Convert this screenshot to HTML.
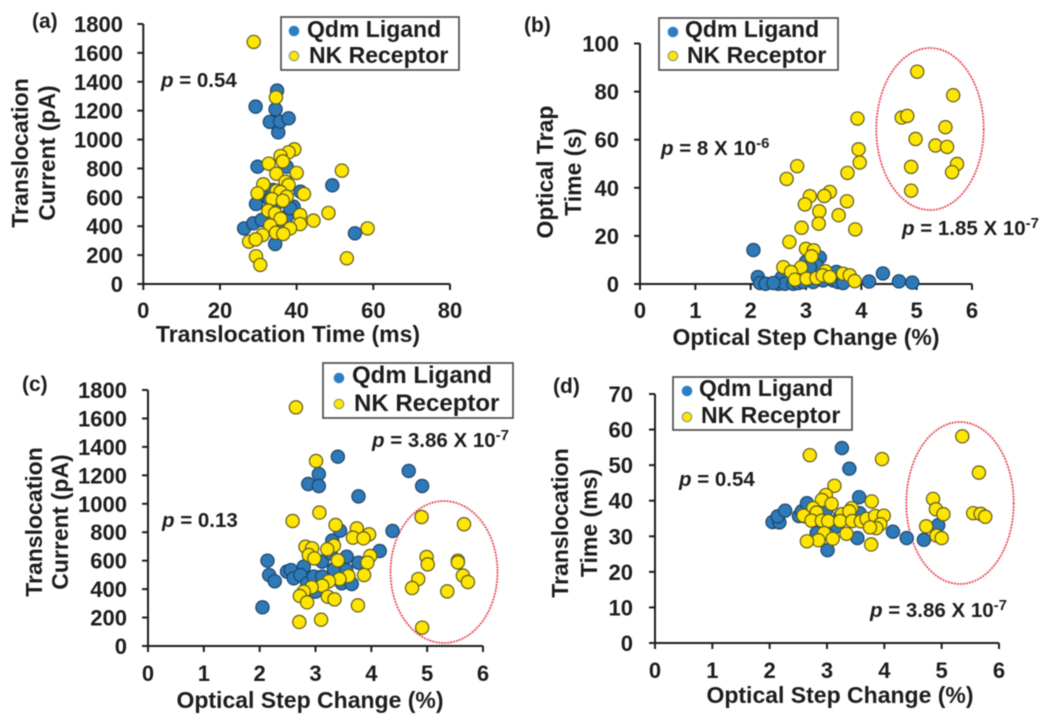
<!DOCTYPE html>
<html lang="en">
<head>
<meta charset="utf-8">
<title>Qdm Ligand and NK Receptor scatter panels</title>
<style>
html,body{margin:0;padding:0;background:#fff;}
svg{display:block;filter:blur(0.45px);}
text{font-family:"Liberation Sans",sans-serif;font-weight:bold;fill:#1c1c1c;}
.it{font-style:italic;}
</style>
</head>
<body>
<svg id="fig" width="1050" height="725" viewBox="0 0 1050 725" xmlns="http://www.w3.org/2000/svg"></svg>
<script>
// Panel (a): translocation time (ms) vs translocation current (pA)
const aQdmX = [26.3,28.7,29.4,29.8,29.3,30.9,33,34.5,34.9,35.2,35.7,37.9,34.4,55.2,49.3,37.4,41,32.2,33.9,39.2,37.4,35.7,38.3,34.8,36.5,33];
const aQdmY = [385,420,554,812,1228,443,1122,1209,1339,1050,1124,1147,277,351,683,812,639,605,651,535,466,432,524,558,605,582];
const aNkX = [28.8,34.6,39.4,37.9,35.8,36.4,32.7,40,34.7,51.8,37.1,31.3,37.9,29.8,41.9,34.8,35.8,37.4,33.6,36.4,32.6,34.4,48.3,40.9,35.8,44.4,40.9,33.1,38.3,58.5,31.1,34.6,36.5,27.6,29.3,29.4,53.1,30.5];
const aNkY = [1676,1292,932,912,886,849,833,769,764,785,708,690,685,628,623,646,637,605,588,577,508,489,492,478,452,439,415,406,385,385,339,355,346,293,309,192,178,132];
// Panel (b): optical step change (%) vs optical trap time (s)
const bQdmX = [2.05,2.13,2.17,2.27,2.5,2.56,2.62,2.77,2.86,3.0,3.25,3.19,3.07,3.13,3.31,3.43,3.49,3.58,3.67,4.14,4.39,4.68,4.92,3.55,2.95,2.41];
const bQdmY = [14.1,2.9,0.4,0.1,0.1,2.6,0.1,0.1,0.4,9.2,11,7.8,7,0.8,1.5,4.3,1.5,0.8,0.4,1,4.4,1.1,0.6,5,0.8,0.4];
const bNkX = [5.01,5.66,4.73,4.83,3.93,5.52,4.98,5.34,5.55,3.95,3.97,5.73,5.64,4.9,4.9,2.84,2.65,3.75,3.43,3.33,3.07,2.98,3.74,3.24,3.59,3.23,2.92,3.89,2.7,3,3.14,3.1,2.59,2.91,2.73,3.35,3.67,3.79,3.88,2.8,3.01,3.19,3.3,3.43];
const bNkY = [88.3,78.5,69.2,69.9,68.8,65.2,60.3,57.6,57,56,50.5,49.9,46.5,48.7,38.8,49,43.7,46.2,38.3,36.6,36.5,33.1,34.4,30.2,28.6,25.1,23.4,22.7,17.5,14.6,14,11.5,7,6.9,5,5.3,4.3,3.6,1.2,1.8,2.2,2.5,3.6,2.9];
// Panel (c): optical step change (%) vs translocation current (pA)
const cQdmX = [2.05,2.14,2.17,2.27,2.49,2.56,2.61,2.79,2.73,2.85,2.97,3,3.12,3.27,3.3,3.33,3.56,3.55,3.44,3.47,3.65,3.77,4.15,4.38,3.77,3.4,3.06,2.87,3.06,4.67,4.91,3.12];
const cQdmY = [272,600,499,455,523,534,476,558,499,441,488,382,593,652,741,539,628,534,811,441,436,586,668,809,1052,1331,1209,1139,1125,1231,1125,488];
const cNkX = [2.65,3.01,2.59,3.07,3.36,3.74,3.96,3.67,3.86,2.82,2.94,3.33,3.21,2.88,2.98,3.4,3.98,3.93,3.87,3.59,3.43,3.24,3.12,2.93,2.79,2.72,2.85,3.22,3.34,3.76,2.71,3.1,4.9,5.66,4.99,5.01,5.55,5.55,5.64,5.73,4.84,4.73,5.36,4.91];
const cNkY = [1678,1301,879,938,851,827,785,762,757,698,687,706,680,640,616,602,633,586,499,492,471,455,424,413,382,352,307,347,328,286,169,185,907,856,626,574,600,588,495,450,471,408,384,129];
// Panel (d): optical step change (%) vs translocation time (ms)
const dQdmX = [2.05,2.17,2.14,2.27,2.51,2.56,2.65,2.62,2.82,3.01,3.26,3.39,3.56,2.99,3.17,3.23,3.53,3.57,4.15,4.39,4.69,4.94];
const dQdmY = [34,33.9,35.6,37.2,35.7,37,39.3,35.6,30.9,26.1,54.8,49,41,37.4,32.8,35.6,29.5,36.5,31.3,29.5,29,33.1];
const dNkX = [2.7,3.96,5.36,5.65,3.13,2.98,2.91,3.78,3.08,4.85,4.9,5.03,5.55,5.68,5.76,2.76,2.82,2.59,2.73,2.91,3.02,3.26,3.43,3.39,3.23,3.44,3.59,3.69,3.84,3.99,3.93,3.86,3.75,4.73,4.91,5,3.34,2.95,3.1,2.85,2.65,3.77];
const dNkY = [52.8,51.7,58.1,47.9,44.2,41.6,40.2,39.8,39.1,40.5,37.6,36.2,36.5,36.3,35.5,37.9,36.7,35.8,34.4,34.4,34.3,36.2,37.9,37,34.3,34.3,34.2,34.9,35.7,35.8,33.4,32.3,32.5,32.8,30.2,29.5,30.7,30.9,29.3,28.9,28.6,27.7];
// Tick labels
const currentTicks = [0,200,400,600,800,1000,1200,1400,1600,1800];
const timeXTicks = [0,20,40,60,80];
const stepTicks = [0,1,2,3,4,5,6];
const trapTicks = [0,20,40,60,80,100];
const timeYTicks = [0,10,20,30,40,50,60,70];

const NS = 'http://www.w3.org/2000/svg';
const fig = document.getElementById('fig');

function make(parent, tag, attrs, text) {
  const el = document.createElementNS(NS, tag);
  for (const k in attrs) el.setAttribute(k, attrs[k]);
  if (text !== undefined) el.textContent = text;
  parent.appendChild(el);
  return el;
}
function scale(d0, d1, p0, p1) {
  return function (v) { return p0 + (v - d0) / (d1 - d0) * (p1 - p0); };
}

function drawAxes(g, x, y, xTicks, yTicks, tickRight, xBase) {
  const xa = make(g, 'line', {x1: x(xTicks[0]), x2: x(xTicks[xTicks.length - 1]), y1: y(0), y2: y(0), stroke: '#1c1c1c', 'stroke-width': 2});
  
  
  const ya = make(g, 'line', {x1: x(0), x2: x(0), y1: y(0), y2: y(yTicks[yTicks.length - 1]), stroke: '#1c1c1c', 'stroke-width': 2});
  
  
  xTicks.forEach(function (t) {
    const m = make(g, 'line', {x1: x(t), x2: x(t), y1: y(0), y2: y(0) + 6, stroke: '#1c1c1c', 'stroke-width': 2});
    
    
    const l = make(g, 'text', {x: x(t), y: xBase, 'text-anchor': 'middle', 'font-size': 22}, String(t));
    
    
  });
  yTicks.forEach(function (t) {
    const m = make(g, 'line', {x1: x(0) - 6, x2: x(0), y1: y(t), y2: y(t), stroke: '#1c1c1c', 'stroke-width': 2});
    
    
    const l = make(g, 'text', {x: tickRight, y: y(t) + 8, 'text-anchor': 'end', 'font-size': 22}, String(t));
    
    
  });
}

function drawSeries(g, xs, ys, x, y, fill, edge, name) {
  const s = make(g, 'g', {});
  
  
  xs.forEach(function (v, i) {
    const c = make(s, 'circle', {cx: x(v), cy: y(ys[i]), r: 6.6, fill: fill, stroke: edge, 'stroke-width': 1.2});
    
    
  });
}

function drawLegend(g, bx, by, bw, bh, fs, mx, tx1, tx2, y1, y2, b1, b2) {
  const lg = make(g, 'g', {});
  
  
  const box = make(lg, 'rect', {x: bx, y: by, width: bw, height: bh, fill: '#fff', stroke: '#444', 'stroke-width': 1.6});
  
  
  const m1 = make(lg, 'circle', {cx: mx, cy: y1, r: 5.3, fill: '#2e7ec2'});
  
  
  const m2 = make(lg, 'circle', {cx: mx, cy: y2, r: 4.8, fill: '#ffe600', stroke: '#7f8f7a', 'stroke-width': 1});
  
  
  const t1 = make(lg, 'text', {x: tx1, y: b1, 'font-size': fs}, 'Qdm Ligand');
  
  
  const t2 = make(lg, 'text', {x: tx2, y: b2, 'font-size': fs}, 'NK Receptor');
  
  
}

function drawP(g, px, py, value, sup) {
  const t = make(g, 'text', {x: px, y: py, 'font-size': 20.5});
  
  
  make(t, 'tspan', {class: 'it'}, 'p');
  make(t, 'tspan', {}, ' = ' + value);
  if (sup) make(t, 'tspan', {'font-size': 15, dy: -7}, sup);
}

function drawYTitle(g, bx, cy, label) {
  const t = make(g, 'text', {x: 0, y: 0, 'font-size': 23, 'text-anchor': 'middle', transform: 'translate(' + bx + ' ' + cy + ') rotate(-90)'}, label);
  
  
}
function drawXTitle(g, cx, by, label) {
  const t = make(g, 'text', {x: cx, y: by, 'font-size': 23, 'text-anchor': 'middle'}, label);
  
  
}
function drawTag(g, tx, ty, label) {
  const t = make(g, 'text', {x: tx, y: ty, 'font-size': 21}, label);
  
  
}
function drawEllipse(g, cx, cy, rx, ry) {
  const e = make(g, 'ellipse', {cx: cx, cy: cy, rx: rx, ry: ry, fill: 'none', stroke: '#e8404f', 'stroke-width': 1.7, 'stroke-dasharray': '2 1'});
  
  
}

const BLUE = '#2e7ab8', BLUE_EDGE = '#1c4468', YEL = '#ffe600', YEL_EDGE = '#5f5a1e';

// Panel a
const ga = make(fig, 'g', {});


const ax = scale(0, 80, 143.3, 450), ay = scale(0, 1800, 284, 24);
drawAxes(ga, ax, ay, timeXTicks, currentTicks, 123, 318);
drawSeries(ga, aQdmX, aQdmY, ax, ay, BLUE, BLUE_EDGE, 'series-qdm-ligand');
drawSeries(ga, aNkX, aNkY, ax, ay, YEL, YEL_EDGE, 'series-nk-receptor');
drawLegend(ga, 281, 17, 178, 53, 23, 294, 307, 309, 31, 56, 37, 63);
drawP(ga, 161, 87, '0.54');
drawYTitle(ga, 28, 153, 'Translocation');
drawYTitle(ga, 55, 153, 'Current (pA)');
drawXTitle(ga, 288, 342, 'Translocation Time (ms)');
drawTag(ga, 32, 28, '(a)');

// Panel b
const gb = make(fig, 'g', {});


const bx = scale(0, 6, 640, 972), by = scale(0, 100, 284, 43.5);
drawAxes(gb, bx, by, stepTicks, trapTicks, 619, 318);
drawEllipse(gb, 930, 129, 53.7, 81);
drawSeries(gb, bQdmX, bQdmY, bx, by, BLUE, BLUE_EDGE, 'series-qdm-ligand');
drawSeries(gb, bNkX, bNkY, bx, by, YEL, YEL_EDGE, 'series-nk-receptor');
drawLegend(gb, 659, 18, 179, 52, 23, 673, 685, 687, 32, 56, 37, 63);
drawP(gb, 661, 155, '8 X 10', '-6');
drawP(gb, 902, 235, '1.85 X 10', '-7');
drawYTitle(gb, 553, 172, 'Optical Trap');
drawYTitle(gb, 581, 172, 'Time (s)');
drawXTitle(gb, 806, 345, 'Optical Step Change (%)');
drawTag(gb, 524, 32, '(b)');

// Panel c
const gc = make(fig, 'g', {});


const cx = scale(0, 6, 148, 483), cy = scale(0, 1800, 646, 390);
drawAxes(gc, cx, cy, stepTicks, currentTicks, 127, 681);
drawEllipse(gc, 444, 572, 53.5, 71);
drawSeries(gc, cQdmX, cQdmY, cx, cy, BLUE, BLUE_EDGE, 'series-qdm-ligand');
drawSeries(gc, cNkX, cNkY, cx, cy, YEL, YEL_EDGE, 'series-nk-receptor');
drawLegend(gc, 323, 363, 190, 55, 24, 339, 352, 354, 378, 404, 383, 411);
drawP(gc, 162, 527, '0.13');
drawP(gc, 372, 447, '3.86 X 10', '-7');
drawYTitle(gc, 42, 522, 'Translocation');
drawYTitle(gc, 68, 522, 'Current (pA)');
drawXTitle(gc, 310, 708, 'Optical Step Change (%)');
drawTag(gc, 22, 391, '(c)');

// Panel d
const gd = make(fig, 'g', {});


const dx = scale(0, 6, 655, 999), dy = scale(0, 70, 643, 394);
drawAxes(gd, dx, dy, stepTicks, timeYTicks, 633, 678);
drawEllipse(gd, 960, 503, 53.7, 81);
drawSeries(gd, dQdmX, dQdmY, dx, dy, BLUE, BLUE_EDGE, 'series-qdm-ligand');
drawSeries(gd, dNkX, dNkY, dx, dy, YEL, YEL_EDGE, 'series-nk-receptor');
drawLegend(gd, 673, 377, 179, 53, 23, 687, 699, 701, 391, 417, 396, 423);
drawP(gd, 679, 486, '0.54');
drawP(gd, 870, 617, '3.86 X 10', '-7');
drawYTitle(gd, 568, 523, 'Translocation');
drawYTitle(gd, 597, 523, 'Time (ms)');
drawXTitle(gd, 840, 703, 'Optical Step Change (%)');
drawTag(gd, 553, 393, '(d)');
</script>
</body>
</html>
